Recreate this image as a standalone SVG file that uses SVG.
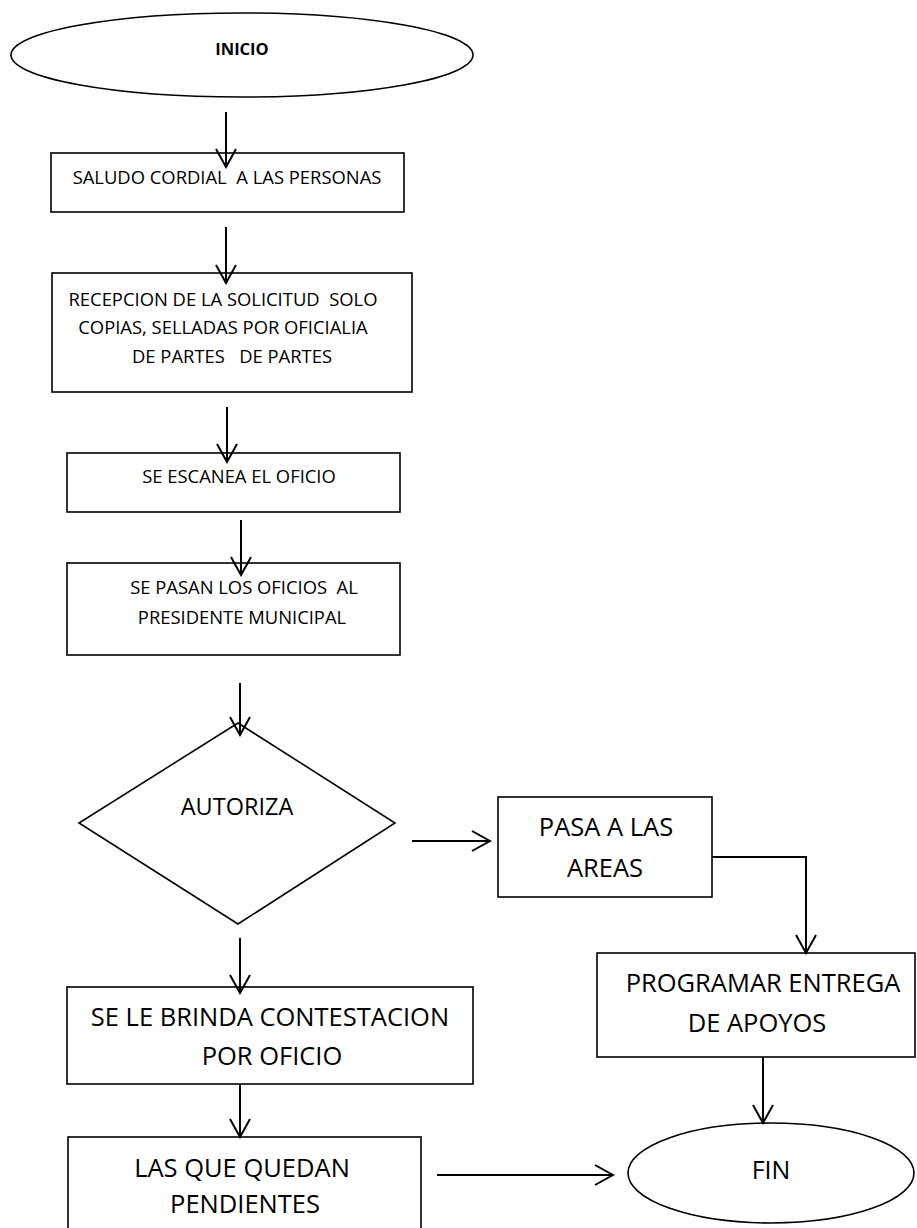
<svg xmlns="http://www.w3.org/2000/svg" width="917" height="1228" viewBox="0 0 917 1228">
  <style>
    .shape { fill: #ffffff; stroke: #000000; stroke-width: 1.6; }
    .conn { fill: none; stroke: #000000; stroke-width: 2; }
    text { font-family: "Open Sans", "Liberation Sans", Arial, sans-serif; fill: #000000; text-anchor: middle; white-space: pre; }
    .s18 { font-size: 18.4px; }
    .s23 { font-size: 23.5px; }
    .s25 { font-size: 25.5px; }
    .fin { font-size: 25px; }
    .title { font-size: 16.5px; font-weight: bold; }
  </style>
  <defs>
    <marker id="open-arrow" markerUnits="userSpaceOnUse" markerWidth="22" markerHeight="22" viewBox="0 0 20 22" refX="19" refY="11" orient="auto">
      <path d="M1,1 L19,11 L1,21" fill="none" stroke="#000000" stroke-width="2"/>
    </marker>
  </defs>
  <rect width="917" height="1228" fill="#ffffff"/>

  <g id="inicio">
    <ellipse class="shape" cx="242" cy="55" rx="231" ry="42"/>
    <text class="title" x="242" y="55">INICIO</text>
  </g>

  <g id="saludo">
    <rect class="shape" x="51" y="153" width="353" height="59"/>
    <text class="s18" x="227" y="184" xml:space="preserve">SALUDO CORDIAL  A LAS PERSONAS</text>
  </g>

  <g id="recepcion">
    <rect class="shape" x="52" y="273" width="360" height="119"/>
    <text class="s18" x="223" y="306" xml:space="preserve">RECEPCION DE LA SOLICITUD  SOLO</text>
    <text class="s18" x="223" y="334">COPIAS, SELLADAS POR OFICIALIA</text>
    <text class="s18" x="232" y="363" xml:space="preserve">DE PARTES   DE PARTES</text>
  </g>

  <g id="escanea">
    <rect class="shape" x="67" y="453" width="333" height="59"/>
    <text class="s18" x="239" y="483">SE ESCANEA EL OFICIO</text>
  </g>

  <g id="pasan-oficios">
    <rect class="shape" x="67" y="563" width="333" height="92"/>
    <text class="s18" x="244" y="594" xml:space="preserve">SE PASAN LOS OFICIOS  AL</text>
    <text class="s18" x="242" y="624">PRESIDENTE MUNICIPAL</text>
  </g>

  <g id="autoriza">
    <polygon class="shape" points="238,723 395,823 238,924 79,823"/>
    <text class="s23" x="237" y="815">AUTORIZA</text>
  </g>

  <g id="pasa-areas">
    <rect class="shape" x="498" y="797" width="214" height="100"/>
    <text class="s25" x="606" y="836">PASA A LAS</text>
    <text class="s25" x="605" y="877">AREAS</text>
  </g>

  <g id="programar">
    <rect class="shape" x="597" y="953" width="318" height="104"/>
    <text class="s25" x="763" y="992">PROGRAMAR ENTREGA</text>
    <text class="s25" x="757" y="1032">DE APOYOS</text>
  </g>

  <g id="contestacion">
    <rect class="shape" x="67" y="987" width="406" height="97"/>
    <text class="s25" x="270" y="1026">SE LE BRINDA CONTESTACION</text>
    <text class="s25" x="272" y="1065">POR OFICIO</text>
  </g>

  <g id="pendientes">
    <rect class="shape" x="68" y="1137" width="353" height="110"/>
    <text class="s25" x="242" y="1177">LAS QUE QUEDAN</text>
    <text class="s25" x="245" y="1213">PENDIENTES</text>
  </g>

  <g id="fin">
    <ellipse class="shape" cx="771" cy="1173" rx="143" ry="50"/>
    <text class="fin" x="771" y="1179">FIN</text>
  </g>

  <g id="connectors">
    <line class="conn" x1="226" y1="112" x2="226" y2="167" marker-end="url(#open-arrow)"/>
    <line class="conn" x1="226" y1="227" x2="226" y2="283" marker-end="url(#open-arrow)"/>
    <line class="conn" x1="227" y1="407" x2="227" y2="462" marker-end="url(#open-arrow)"/>
    <line class="conn" x1="241" y1="520" x2="241" y2="575" marker-end="url(#open-arrow)"/>
    <line class="conn" x1="240" y1="683" x2="240" y2="735" marker-end="url(#open-arrow)"/>
    <line class="conn" x1="412" y1="841" x2="490" y2="841" marker-end="url(#open-arrow)"/>
    <polyline class="conn" points="712,857 806,857 806,953" marker-end="url(#open-arrow)"/>
    <line class="conn" x1="240" y1="938" x2="240" y2="993" marker-end="url(#open-arrow)"/>
    <line class="conn" x1="240" y1="1084" x2="240" y2="1137" marker-end="url(#open-arrow)"/>
    <line class="conn" x1="763" y1="1057" x2="763" y2="1123" marker-end="url(#open-arrow)"/>
    <line class="conn" x1="437" y1="1175" x2="613" y2="1175" marker-end="url(#open-arrow)"/>
  </g>
</svg>
